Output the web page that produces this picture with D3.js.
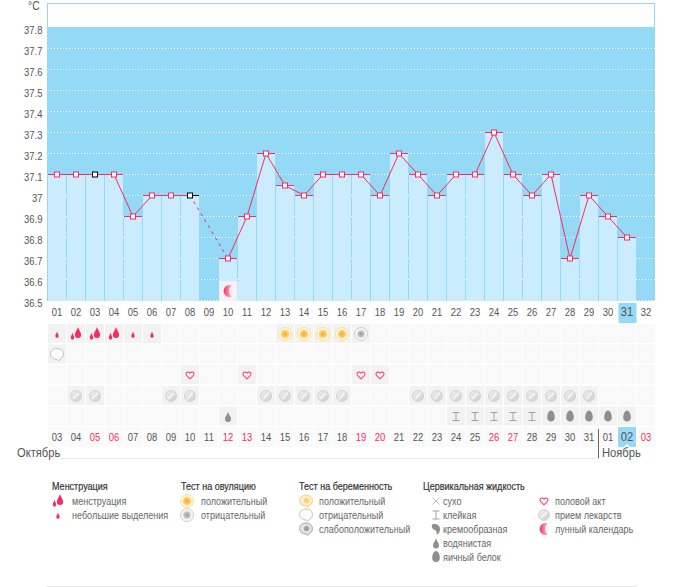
<!DOCTYPE html>
<html><head><meta charset="utf-8">
<script src="https://cdn.jsdelivr.net/npm/d3@7"></script>
<style>html,body{margin:0;padding:0;background:#fff}svg{display:block}text{font-family:"Liberation Sans",sans-serif;fill:#555}</style>
</head><body><svg id="c" width="693" height="587"></svg>
<script>
const days=d3.range(1,33);
const temps=[37.1,37.1,37.1,37.1,36.9,37,37,37,null,36.7,36.9,37.2,37.05,37,37.1,37.1,37.1,37,37.2,37.1,37,37.1,37.1,37.3,37.1,37,37.1,36.7,37,36.9,36.8,null];
const blackMarkers=[3,8];
const yTicks=[36.5,36.6,36.7,36.8,36.9,37,37.1,37.2,37.3,37.4,37.5,37.6,37.7,37.8];
const dateLabels=["03","04","05","06","07","08","09","10","11","12","13","14","15","16","17","18","19","20","21","22","23","24","25","26","27","28","29","30","31","01","02","03"];
const redDates=[3,4,10,11,17,18,24,25,32];
const rowMenses=[[1,"light"],[2,"heavy"],[3,"heavy"],[4,"heavy"],[5,"light"],[6,"light"],[13,"ovuPos"],[14,"ovuPos"],[15,"ovuPos"],[16,"ovuPos"],[17,"ovuNeg"]];
const rowPreg=[[1,"pregNeg"]];
const rowHeart=[8,11,17,18].map(d=>[d,"heart"]);
const rowPill=[2,3,7,8,12,13,14,15,16,20,21,22,23,24,25,26,27,28,29].map(d=>[d,"pill"]);
const rowFluid=[[10,"watery"],[22,"sticky"],[23,"sticky"],[24,"sticky"],[25,"sticky"],[26,"sticky"],[27,"egg"],[28,"egg"],[29,"egg"],[30,"egg"],[31,"egg"]];
const moonDays=[10];
const legendGroups=[
 {title:"Менструация",tx:52,ix:58,lx:72,items:[["heavy","менструация"],["light","небольшие выделения"]]},
 {title:"Тест на овуляцию",tx:181,ix:187,lx:201,items:[["ovuPos","положительный"],["ovuNeg","отрицательный"]]},
 {title:"Тест на беременность",tx:299,ix:306,lx:319,items:[["pregPos","положительный"],["pregNeg","отрицательный"],["pregWeak","слабоположительный"]]},
 {title:"Цервикальная жидкость",tx:423,ix:436,lx:443,items:[["dry","сухо"],["sticky","клейкая"],["creamy","кремообразная"],["watery","водянистая"],["egg","яичный белок"]]},
 {title:"",tx:0,ix:544,lx:555,items:[["heart","половой акт"],["pill","прием лекарств"],["moon","лунный календарь"]]}
];
const BG="#94d9f5",BAR="#cbecfd",PINK="#f72c62",GREY="#8f8f8f";
const FS=11;
const SX=.86;
const svg=d3.select("#c");
const defs=svg.append("defs");
const rg=(id,a,b,c)=>{const g=defs.append("radialGradient").attr("id",id);g.append("stop").attr("offset","0%").attr("stop-color",a);g.append("stop").attr("offset","60%").attr("stop-color",b);g.append("stop").attr("offset","100%").attr("stop-color",c);};
rg("ogp","#f9a52c","#fbc860","#fcd98c");rg("ogn","#999","#bbb","#d0d0d0");
const lg=defs.append("linearGradient").attr("id","mg");lg.append("stop").attr("offset","0%").attr("stop-color","#f72c62");lg.append("stop").attr("offset","100%").attr("stop-color","#fcc4d6");
const lp=defs.append("linearGradient").attr("id","pg").attr("x1",0).attr("y1",0).attr("x2",1).attr("y2",1);lp.append("stop").attr("offset","0%").attr("stop-color","#f0f0f0");lp.append("stop").attr("offset","100%").attr("stop-color","#cfcfcf");

const x=d3.scaleBand().domain(days).range([47.5,655.5]);
const y=d3.scaleLinear().domain([36.5,37.8]).range([300.3,27.3]);
const cx=d=>x(d)+x.bandwidth()/2;
const BOT=301;
const label=(px,py,size,txt,fill,anchor)=>svg.append("text").attr("transform",`translate(${px},${py}) scale(${SX},1)`).attr("font-size",size).attr("text-anchor",anchor||"start").style("fill",fill||"#555").text(txt);

svg.append("rect").attr("x",47.5).attr("y",3.5).attr("width",607).attr("height",24).attr("fill","#fff").attr("stroke",BG);
svg.append("rect").attr("x",47).attr("y",y(37.8)).attr("width",608).attr("height",BOT-y(37.8)).attr("fill",BG);
svg.append("g").selectAll("line").data(yTicks.slice(0,-1)).join("line")
 .attr("x1",48).attr("x2",655).attr("y1",d=>Math.round(y(d))+.5).attr("y2",d=>Math.round(y(d))+.5)
 .attr("stroke","#fff").attr("stroke-dasharray","1 2");
const vals=days.map((d,i)=>({d,v:temps[i]}));
const real=vals.filter(e=>e.v!=null);
svg.append("g").selectAll("rect").data(real).join("rect")
 .attr("x",e=>x(e.d)+.5).attr("width",18).attr("y",e=>y(e.v)).attr("height",e=>BOT-y(e.v)).attr("fill",BAR);
svg.append("rect").attr("x",x(10)+1).attr("y",281).attr("width",18).attr("height",20).attr("fill","#f6f1f3");
svg.append("g").selectAll("line").data(real).join("line")
 .attr("x1",e=>x(e.d)+.5).attr("x2",e=>x(e.d)+18.5).attr("y1",e=>Math.round(y(e.v))+.5).attr("y2",e=>Math.round(y(e.v))+.5)
 .attr("stroke",PINK);
svg.append("g").selectAll("line").data(real.filter(e=>e.d==8)).join("line")
 .attr("x1",e=>cx(e.d)).attr("x2",e=>x(e.d)+18.5).attr("y1",e=>Math.round(y(e.v))+.5).attr("y2",e=>Math.round(y(e.v))+.5)
 .attr("stroke","#000");
const line=d3.line().x(e=>cx(e.d)).y(e=>Math.round(y(e.v))+.5);
svg.append("g").selectAll("path").data(d3.pairs(real)).join("path")
 .attr("d",p=>line(p)).attr("fill","none").attr("stroke",PINK).attr("stroke-width",1)
 .attr("stroke-dasharray",p=>p[1].d-p[0].d>1?"3 4":null);
svg.append("g").selectAll("rect").data(real).join("rect")
 .attr("x",e=>Math.round(cx(e.d))-2.5).attr("y",e=>Math.round(y(e.v))-2).attr("width",5).attr("height",5)
 .attr("fill","#fff").attr("stroke",e=>blackMarkers.includes(e.d)?"#000":PINK).attr("stroke-width",1);

const yAxis=d3.axisLeft(y).tickValues(yTicks).tickFormat(d=>String(d)).tickSize(0).tickPadding(0);
const ga=svg.append("g").attr("transform","translate(42.5,2.3)").call(yAxis);
ga.select(".domain").remove();
ga.selectAll("text").style("font-size",FS+"px").attr("x",0).attr("dy","0.35em").attr("transform",`scale(${SX},1)`);
label(28,10,12,"°C");

const gridRows=[[324,rowMenses],[344.5,rowPreg],[365,rowHeart],[386,rowPill],[406.5,rowFluid]];
const iconG=(sel,kind)=>{
 const drop=(g,cx0,cy0,s,f,w)=>g.append("path").attr("transform",`translate(${cx0},${cy0}) scale(${s*(w||1)},${s})`).attr("d","M0,-5.5C.6,-2.8 3,-.8 3,1.6A3,3 0 0 1 -3,1.6C-3,-.8 -.6,-2.8 0,-5.5Z").attr("fill",f);
 if(kind=="light")drop(sel,0,1,.62,PINK,.9);
 if(kind=="heavy"){drop(sel,2,-1,1.1,PINK,.95);drop(sel,-3.5,2.5,.68,PINK,.85);}
 if(kind=="ovuPos"){sel.append("circle").attr("r",6.5).attr("fill","#fff6dd").attr("stroke","#fcdf9c");sel.append("circle").attr("r",4.3).attr("fill","url(#ogp)");}
 if(kind=="ovuNeg"){sel.append("circle").attr("r",6.5).attr("fill","#f5f5f5").attr("stroke","#cfcfcf");sel.append("circle").attr("r",3.8).attr("fill","url(#ogn)");}
 if(kind.startsWith("preg")){
  const c={pregPos:["#fdedc4","#f7cf80"],pregNeg:["#fbfbfb","#c2c2c2"],pregWeak:["#e2e2e2","#a8a8a8"]}[kind];
  sel.append("path").attr("d","M0,-6C4,-6 6.5,-3.5 6.5,-.5C6.5,2.5 4.5,4 3,4.5L1.8,6.5L.3,5C-3,5 -6.5,3 -6.5,-.5C-6.5,-3.5 -4,-6 0,-6Z").attr("fill",c[0]).attr("stroke",c[1]);
  if(kind!="pregNeg")sel.append("circle").attr("cx",.5).attr("cy",-.5).attr("r",2.6).attr("fill",kind=="pregPos"?"#fbd07c":"#a0a0a0");
 }
 if(kind=="heart")sel.append("path").attr("transform","scale(.8)").attr("d","M0,4.8C-2,3 -5,.5 -5,-1.5C-5,-3.8 -2,-4.6 0,-2.2C2,-4.6 5,-3.8 5,-1.5C5,.5 2,3 0,4.8Z").attr("fill","#fff").attr("stroke","#f4487f").attr("stroke-width",1.4);
 if(kind=="pill"){sel.append("circle").attr("r",5.5).attr("fill","url(#pg)").attr("stroke","#d4d4d4");sel.append("line").attr("x1",-2.8).attr("y1",2.8).attr("x2",2.8).attr("y2",-2.8).attr("stroke","#fff").attr("stroke-width",1.2);}
 if(kind=="sticky")sel.append("path").attr("d","M-3.5,-4H3.5M0,-4V4M-3.5,4H3.5").attr("stroke","#a0a0a0").attr("stroke-width",1).attr("fill","none");
 if(kind=="watery")drop(sel,0,.8,1,GREY);
 if(kind=="egg")sel.append("path").attr("d","M0,-6C2.6,-6 3.8,-1.5 3.8,1C3.8,3.5 2,5 0,5C-2,5 -3.8,3.5 -3.8,1C-3.8,-1.5 -2.6,-6 0,-6Z").attr("fill",GREY);
 if(kind=="dry")sel.append("path").attr("d","M-3.5,-3.5L3.5,3.5M3.5,-3.5L-3.5,3.5").attr("stroke","#aaa").attr("stroke-width",.8);
 if(kind=="creamy")sel.append("path").attr("d","M-4,-4.5C0,-6 4.5,-4 4,1C3.6,4 1.5,5.5 .5,5.5C1,3.5 .5,2 -1,1C-3,1 -5,-2.5 -4,-4.5Z").attr("fill",GREY);
 if(kind=="moon")sel.append("path").attr("d","M4,-5.5A6,6 0 1 0 4,5.5A7,7 0 0 1 1,0A7,7 0 0 1 4,-5.5Z").attr("fill","url(#mg)");
};
const xTop=d3.axisBottom(x).tickFormat(d=>String(d).padStart(2,"0")).tickSize(0).tickPadding(0);
svg.append("rect").attr("x",x(31)+1).attr("y",303).attr("width",18).attr("height",20).attr("fill",BG);
const gt=svg.append("g").attr("transform","translate(0,308)").call(xTop);
gt.select(".domain").remove();
gt.selectAll("text").style("font-size",FS+"px").attr("y",0).attr("dy","0.71em").attr("transform",`scale(${SX},1)`);
gt.selectAll("text").filter(d=>d==31).style("font-size","13px").attr("dy","0.6em");
gridRows.forEach(([yy,row])=>{
 const on=new Map(row);
 svg.append("g").selectAll("rect").data(days).join("rect")
  .attr("x",d=>x(d)+.5).attr("y",yy).attr("width",18).attr("height",19)
  .attr("fill",d=>on.has(d)?"#f3f2f3":"#faf9fa");
 row.forEach(([d,k])=>iconG(svg.append("g").attr("transform",`translate(${cx(d)},${yy+10})`),k));
});
svg.append("g").selectAll("rect").data(days).join("rect")
 .attr("x",d=>x(d)+.5).attr("y",427).attr("width",18).attr("height",20).attr("fill",d=>d==31?BG:"#fbfafb");
svg.append("path").attr("d",`M${cx(31)-3},447L${cx(31)},444L${cx(31)+3},447Z`).attr("fill","#fff");
days.forEach((d,i)=>label(cx(d),d==31?441:441,d==31?13:FS,dateLabels[i],redDates.includes(d)?PINK:"#555","middle"));
moonDays.forEach(d=>iconG(svg.append("g").attr("transform",`translate(${cx(d)},291)`),"moon"));
svg.append("line").attr("x1",50).attr("x2",637).attr("y1",458.5).attr("y2",458.5).attr("stroke","#e8e8e8");
svg.append("rect").attr("x",16).attr("y",448).attr("width",45).attr("height",12).attr("fill","#fff");
label(17,457,13,"Октябрь");
svg.append("line").attr("x1",598.5).attr("x2",598.5).attr("y1",429).attr("y2",458).attr("stroke","#666");
svg.append("rect").attr("x",600).attr("y",448).attr("width",40).attr("height",12).attr("fill","#fff");
label(602,457,13,"Ноябрь");
const LY=[501,515,529,543,557];
legendGroups.forEach(g=>{
 if(g.title)label(g.tx,490,10.5,g.title,"#333").attr("stroke","#333").attr("stroke-width",.2);
 g.items.forEach(([k,t],i)=>{
  iconG(svg.append("g").attr("transform",`translate(${g.ix},${LY[i]})`),k);
  label(g.lx,LY[i]+3.5,10.5,t,"#666");
 });
});
svg.append("line").attr("x1",46).attr("x2",637).attr("y1",586.5).attr("y2",586.5).attr("stroke","#e8e8e8");
</script></body></html>
